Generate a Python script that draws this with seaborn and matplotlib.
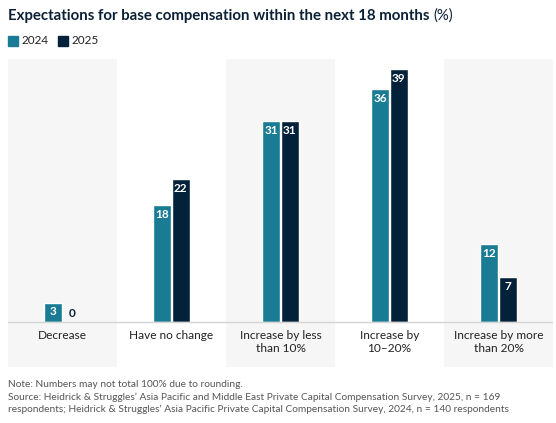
import matplotlib.pyplot as plt
import seaborn as sns
import pandas as pd

categories = ["Decrease", "Have no change", "Increase by less\nthan 10%",
              "Increase by\n10\u201320%", "Increase by more\nthan 20%"]
years = ["2024", "2025"]
values_2024 = [3, 18, 31, 36, 12]
values_2025 = [0, 22, 31, 39, 7]

colors = {"2024": "#1a7b94", "2025": "#032239"}
navy = "#0b2035"

df = pd.DataFrame({
    "category": categories * 2,
    "year": ["2024"] * len(categories) + ["2025"] * len(categories),
    "value": values_2024 + values_2025,
})

sns.set_style("white")
plt.rcParams["font.family"] = ["Lato", "DejaVu Sans"]

fig = plt.figure(figsize=(5.56, 4.23), dpi=100)
ax = fig.add_axes([8 / 556, 1 - 367 / 423, 545 / 556, 308 / 423])

# alternating background bands
for i in range(len(categories)):
    if i % 2 == 0:
        ax.axvspan(i - 0.5, i + 0.5, color="#f6f6f6", lw=0, zorder=0)

sns.barplot(data=df, x="category", y="value", hue="year", order=categories,
            hue_order=years, palette=colors, width=0.34, gap=0.04,
            saturation=1, legend=False, ax=ax, zorder=2)

ax.axhline(0, color="#d4d4d4", lw=1, zorder=3)
ax.set_xlim(-0.5, len(categories) - 0.5)
ax.set_ylim(-6.95, 40.6)
ax.set_xticks([])
ax.set_yticks([])
ax.set_xlabel("")
ax.set_ylabel("")
for s in ax.spines.values():
    s.set_visible(False)

# value labels
for cont in ax.containers:
    for bar in cont:
        h = bar.get_height()
        xc = bar.get_x() + bar.get_width() / 2
        if h >= 2:
            ax.text(xc, h - 0.6, f"{h:.0f}", ha="center", va="top", color="white",
                    fontsize=8.5, fontweight="bold", zorder=4)
        else:
            ax.text(xc, h + 0.4, f"{h:.0f}", ha="center", va="bottom", color=navy,
                    fontsize=8.5, fontweight="bold", zorder=4)

# category labels
for i, lab in enumerate(categories):
    ax.text(i, -1.3, lab, ha="center", va="top", fontsize=8.6, color="#222222",
            linespacing=1.15)

# title
title = fig.text(8 / 556, 1 - 16 / 423,
                 "Expectations for base compensation within the next 18 months",
                 fontsize=10.8, fontweight="bold", color=navy, va="center")
fig.canvas.draw()
ext = title.get_window_extent()
fig.text((ext.x1 + 4) / 556, 1 - 16 / 423, "(%)", fontsize=10.8, color=navy, va="center")

# legend
for yr, xpos in [("2024", 8), ("2025", 58)]:
    fig.patches.append(plt.Rectangle((xpos / 556, 1 - 46 / 423), 10 / 556, 10 / 423,
                                     transform=fig.transFigure, color=colors[yr]))
    fig.text((xpos + 14) / 556, 1 - 41 / 423, yr, fontsize=8.5, color="#222222", va="center")

note = ("Note: Numbers may not total 100% due to rounding.\n"
        "Source: Heidrick & Struggles\u2019 Asia Pacific and Middle East Private Capital Compensation Survey, 2025, n = 169\n"
        "respondents; Heidrick & Struggles\u2019 Asia Pacific Private Capital Compensation Survey, 2024, n = 140 respondents")
fig.text(8 / 556, 1 - 380 / 423, note, fontsize=7.3, color="#555555", va="top", linespacing=1.42)

fig.savefig("out.png", dpi=100)
